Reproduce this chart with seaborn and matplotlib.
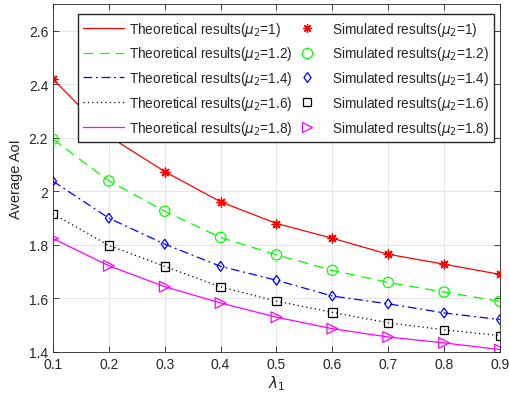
import numpy as np
import pandas as pd
import seaborn as sns
import matplotlib.pyplot as plt
from matplotlib.lines import Line2D

## data
lam1 = [0.1, 0.2, 0.3, 0.4, 0.5, 0.6, 0.7, 0.8, 0.9]
mu2 = ['1', '1.2', '1.4', '1.6', '1.8']
aoi_mu1 = [2.42, 2.206, 2.074, 1.961, 1.880, 1.825, 1.765, 1.728, 1.690]
aoi_mu12 = [2.195, 2.039, 1.926, 1.828, 1.763, 1.705, 1.660, 1.624, 1.589]
aoi_mu14 = [2.038, 1.900, 1.803, 1.720, 1.668, 1.609, 1.580, 1.546, 1.521]
aoi_mu16 = [1.916, 1.798, 1.720, 1.643, 1.590, 1.548, 1.509, 1.483, 1.461]
aoi_mu18 = [1.824, 1.722, 1.644, 1.583, 1.530, 1.487, 1.456, 1.434, 1.409]
all_aoi = [aoi_mu1, aoi_mu12, aoi_mu14, aoi_mu16, aoi_mu18]

colors = ['#ff0000', '#00ff00', '#0000ff', '#000000', '#ff00ff']
styles = ['-', (0, (8, 5)), (0, (7, 3, 1.5, 3)), (0, (1, 2.5)), '-']
diamond = [(0, 1), (0.72, 0), (0, -1), (-0.72, 0), (0, 1)]
markers = [(8, 2, 0), 'o', diamond, 's', '>']
msizes = [40, 55, 50, 36, 60]

sns.set_style('ticks')
plt.rcParams['font.family'] = ['Liberation Sans', 'DejaVu Sans']

fig = plt.figure(figsize=(5.1, 4.02), dpi=100)
ax = fig.add_axes([53/510, 49/402, 447/510, 348/402])

rows = []
for m, vals in zip(mu2, all_aoi):
    for x, y in zip(lam1, vals):
        rows.append({'lam1': x, 'aoi': y, 'mu2': m})
df = pd.DataFrame(rows)

theo_handles = []
sim_handles = []
for i, m in enumerate(mu2):
    sub = df[df.mu2 == m]
    sns.lineplot(data=sub, x='lam1', y='aoi', color=colors[i], linewidth=0.9,
                 linestyle=styles[i], ax=ax, zorder=2)
    if i == 0:
        sns.scatterplot(data=sub, x='lam1', y='aoi', marker=markers[i], s=msizes[i],
                        color=colors[i], edgecolor=colors[i], linewidth=1.0, ax=ax, zorder=3)
    else:
        sns.scatterplot(data=sub, x='lam1', y='aoi', marker=markers[i], s=msizes[i],
                        facecolor='none', edgecolor=colors[i], linewidth=0.9, ax=ax, zorder=3)
    theo_handles.append(Line2D([], [], color=colors[i], linestyle=styles[i], linewidth=0.9,
                               label='Theoretical results($\\mu_2$=' + m + ')'))
    sim_handles.append(Line2D([], [], color=colors[i], linestyle='none', marker=markers[i],
                              markersize=np.sqrt(msizes[i]),
                              markerfacecolor=colors[i] if i == 0 else 'none',
                              markeredgewidth=0.9,
                              label='Simulated results($\\mu_2$=' + m + ')'))

ax.set_xlim(0.1, 0.9)
ax.set_ylim(1.4, 2.7)
ax.set_xticks(lam1)
ax.set_xticklabels([str(x) for x in lam1])
ax.set_yticks([1.4, 1.6, 1.8, 2.0, 2.2, 2.4, 2.6])
ax.set_yticklabels(['1.4', '1.6', '1.8', '2', '2.2', '2.4', '2.6'])
ax.grid(True, color='#e6e6e6', linewidth=0.8)
ax.set_axisbelow(True)
ax.tick_params(direction='in', top=True, right=True, labelsize=10, colors='#262626',
               length=4, width=0.6)
for sp in ax.spines.values():
    sp.set_visible(True)
    sp.set_color('#262626')
    sp.set_linewidth(0.6)
ax.set_xlabel('$\\lambda_1$', fontsize=11, labelpad=2)
ax.set_ylabel('Average AoI', fontsize=10.5, labelpad=4)

ax.legend(handles=theo_handles + sim_handles, ncol=2, loc='upper left',
          bbox_to_anchor=(0.056, 0.629, 0.931, 0.342), mode='expand',
          fontsize=9.8, handlelength=3.0, handletextpad=0.35, columnspacing=1.0,
          labelspacing=0.5, frameon=True, fancybox=False, edgecolor='#262626',
          framealpha=1, borderaxespad=0, borderpad=0.4)

fig.savefig('out.png', dpi=100)
